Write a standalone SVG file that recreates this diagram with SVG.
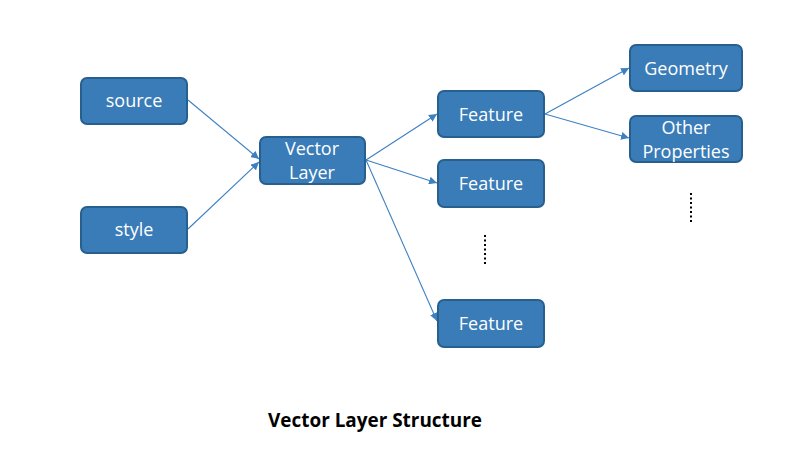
<svg xmlns="http://www.w3.org/2000/svg" width="807" height="455" viewBox="0 0 807 455">
<style>
.n{fill:#3a7cb8;stroke:#275f8e;stroke-width:2}
.t{font-family:"Open Sans","Liberation Sans",sans-serif;font-size:18px;fill:#ffffff;text-anchor:middle;dominant-baseline:central}
.c{stroke:#3d80c2;stroke-width:1.1;fill:none;marker-end:url(#ah)}
.d{stroke:#000;stroke-width:2;stroke-dasharray:2 2.5}
</style>
<defs>
<marker id="ah" viewBox="0 0 10 10" refX="10" refY="5" markerWidth="8" markerHeight="8" markerUnits="userSpaceOnUse" orient="auto">
<path d="M0,0 L10,5 L0,10 z" fill="#3d80c2"/>
</marker>
</defs>
<rect width="807" height="455" fill="#ffffff"/>
<g id="connectors">
<line class="c" x1="188" y1="100" x2="259" y2="159"/>
<line class="c" x1="188" y1="229" x2="259" y2="162"/>
<line class="c" x1="366" y1="160" x2="437" y2="114"/>
<line class="c" x1="366" y1="160" x2="437" y2="183"/>
<line class="c" x1="366" y1="160" x2="437" y2="321"/>
<line class="c" x1="545" y1="114" x2="629" y2="68"/>
<line class="c" x1="545" y1="114" x2="629" y2="138"/>
</g>
<g id="source"><rect class="n" x="81" y="78" width="106" height="46" rx="6"/><text class="t" x="134" y="100">source</text></g>
<g id="style"><rect class="n" x="81" y="207" width="106" height="46" rx="6"/><text class="t" x="134" y="229">style</text></g>
<g id="vectorlayer"><rect class="n" x="260" y="137" width="105" height="47" rx="6"/><text class="t" x="312" y="148">Vector</text><text class="t" x="312" y="172">Layer</text></g>
<g id="feature1"><rect class="n" x="438" y="91" width="106" height="46" rx="6"/><text class="t" x="491" y="114">Feature</text></g>
<g id="feature2"><rect class="n" x="438" y="160" width="106" height="47" rx="6"/><text class="t" x="491" y="183">Feature</text></g>
<g id="feature3"><rect class="n" x="438" y="300" width="106" height="47" rx="6"/><text class="t" x="491" y="323">Feature</text></g>
<g id="geometry"><rect class="n" x="630" y="45" width="112" height="46" rx="6"/><text class="t" x="686" y="68">Geometry</text></g>
<g id="otherprops"><rect class="n" x="630" y="116" width="112" height="46" rx="6"/><text class="t" x="686" y="127">Other</text><text class="t" x="686" y="151">Properties</text></g>
<line class="d" x1="485" y1="235" x2="485" y2="265"/>
<line class="d" x1="691" y1="193" x2="691" y2="223"/>
<text x="375" y="427" font-family="'Open Sans','Liberation Sans',sans-serif" font-size="19" font-weight="bold" text-anchor="middle" fill="#000" textLength="214" lengthAdjust="spacingAndGlyphs">Vector Layer Structure</text>
</svg>
